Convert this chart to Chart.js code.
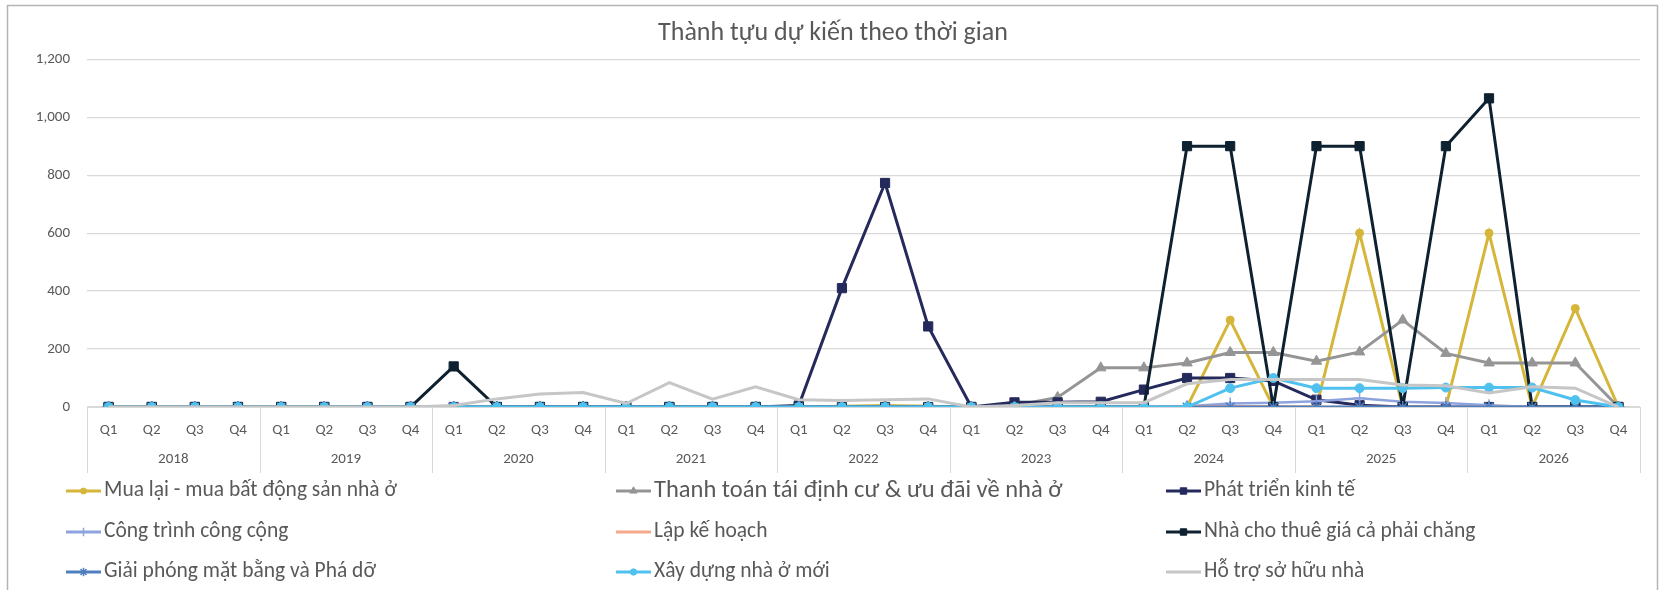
<!DOCTYPE html>
<html>
<head>
<meta charset="utf-8">
<script src="https://cdn.jsdelivr.net/npm/chart.js@4/dist/chart.umd.min.js"></script>
<style>
  html, body { margin: 0; padding: 0; background: #ffffff; }
  #wrap { position: relative; width: 1666px; height: 590px; }
</style>
</head>
<body>
<div id="wrap"><canvas id="c" width="1666" height="590"></canvas></div>
<script>
// Chart title and axis groups
const chartTitle = 'Thành tựu dự kiến theo thời gian';
const years = ['2018', '2019', '2020', '2021', '2022', '2023', '2024', '2025', '2026'];
const quarters = ['Q1', 'Q2', 'Q3', 'Q4'];
const yTicks = [0, 200, 400, 600, 800, 1000, 1200];

// Series names (legend order)
const seriesNames = [
  'Mua lại - mua bất động sản nhà ở',
  'Thanh toán tái định cư & ưu đãi về nhà ở',
  'Phát triển kinh tế',
  'Công trình công cộng',
  'Lập kế hoạch',
  'Nhà cho thuê giá cả phải chăng',
  'Giải phóng mặt bằng và Phá dỡ',
  'Xây dựng nhà ở mới',
  'Hỗ trợ sở hữu nhà'
];

// Quarterly values, 2018 Q1 .. 2026 Q4
const muaLai = [
  0, 0, 0, 0,   0, 0, 0, 0,   0, 0, 0, 0,   0, 0, 0, 0,
  0, 3, 5, 3,   0, 0, 0, 0,   0, 0, 300, 0, 0, 600, 0, 0,
  600, 0, 340, 0
];
const thanhToan = [
  0, 0, 0, 0,   0, 0, 0, 0,   0, 0, 0, 0,   0, 0, 0, 0,
  0, 0, 0, 0,   0, 5, 33, 135, 135, 152, 188, 188, 158, 190, 300, 185,
  152, 152, 152, 0
];
const phatTrien = [
  0, 0, 0, 0,   0, 0, 0, 0,   0, 0, 0, 0,   0, 0, 0, 0,
  5, 410, 773, 278, 0, 16, 16, 18, 60, 100, 100, 90, 25, 6, 0, 0,
  0, 0, 0, 0
];
const congTrinh = [
  0, 0, 0, 0,   0, 0, 0, 0,   0, 0, 0, 0,   0, 0, 0, 0,
  0, 0, 0, 0,   0, 0, 0, 0,   0, 3, 12, 15, 20, 30, 18, 14,
  6, 0, 0, 0
];
const lapKeHoach = [
  0, 0, 0, 0,   0, 0, 0, 0,   0, 0, 0, 0,   0, 0, 0, 0,
  0, 0, 0, 0,   0, 0, 0, 0,   0, 3, 3, 3,   0, 0, 0, 0,
  0, 0, 0, 0
];
const nhaChoThue = [
  0, 0, 0, 0,   0, 0, 0, 0,   140, 0, 0, 0, 0, 0, 0, 0,
  0, 0, 0, 0,   0, 0, 0, 0,   0, 900, 900, 0, 900, 900, 0, 900,
  1065, 0, 0, 0
];
const giaiPhong = [
  0, 0, 0, 0,   0, 0, 0, 0,   0, 0, 0, 0,   0, 0, 0, 0,
  0, 0, 0, 0,   0, 0, 0, 0,   0, 0, 0, 0,   0, 0, 0, 0,
  0, 0, 0, 0
];
const xayDung = [
  0, 0, 0, 0,   0, 0, 0, 0,   0, 0, 0, 0,   0, 0, 0, 0,
  0, 0, 0, 0,   0, 0, 0, 0,   0, 0, 65, 100, 65, 65, 65, 67,
  67, 67, 24, 0
];
const hoTro = [
  0, 0, 0, 0,   0, 0, 0, 0,   5, 28, 45, 50, 12, 84, 27, 70,
  25, 22, 25, 28, 0, 5, 15, 15, 15, 80, 95, 95, 95, 95, 76, 73,
  48, 70, 65, 0
];

const seriesValues = [muaLai, thanhToan, phatTrien, congTrinh, lapKeHoach, nhaChoThue, giaiPhong, xayDung, hoTro];

// Category labels: one quarter per point, years as a second row
const quarterLabels = [];
years.forEach(() => quarters.forEach(q => quarterLabels.push(q)));

const FONT = 'Carlito, Lato, "Open Sans", sans-serif';
const TEXT = '#595959';

// Line and marker styles per series
const styles = [
  { color: '#D6B63A', point: 'circle',   r: 4,   lw: 3 },
  { color: '#959595', point: 'triangle', r: 6,   lw: 3 },
  { color: '#252A5C', point: 'rect',     r: 6.5, lw: 3 },
  { color: '#8EA3DD', point: 'cross',    r: 6,   lw: 2.5 },
  { color: '#F4A98A', point: false,      r: 0,   lw: 2.5 },
  { color: '#0D2130', point: 'rect',     r: 6.5, lw: 3 },
  { color: '#4F7FBF', point: 'star',     r: 6,   lw: 3 },
  { color: '#4FC1EE', point: 'circle',   r: 4.5, lw: 3 },
  { color: '#C6C6C6', point: false,      r: 0,   lw: 3 }
];

const datasets = seriesNames.map((name, i) => {
  const s = styles[i];
  return {
    label: name,
    data: seriesValues[i],
    borderColor: s.color,
    backgroundColor: s.color,
    borderWidth: s.lw,
    pointStyle: s.point || 'circle',
    pointRadius: s.point ? s.r : 0,
    pointBorderWidth: s.point === 'cross' || s.point === 'star' ? 1.5 : 1,
    pointBorderColor: s.color,
    pointBackgroundColor: s.color,
    tension: 0,
    fill: false,
    // later series sit on top of earlier ones
    order: seriesNames.length - 1 - i
  };
});

// Outer frame of the chart
const framePlugin = {
  id: 'frame',
  beforeDraw(chart) {
    const ctx = chart.ctx;
    ctx.save();
    ctx.fillStyle = '#ffffff';
    ctx.fillRect(0, 0, chart.width, chart.height);
    ctx.strokeStyle = '#b4b4b4';
    ctx.lineWidth = 1.5;
    ctx.strokeRect(7.5, 5.5, 1650, 620);
    ctx.restore();
  }
};

// Year group separators below the category axis
const groupPlugin = {
  id: 'groups',
  afterDraw(chart) {
    const x = chart.scales.x;
    const x2 = chart.scales.x2;
    const ctx = chart.ctx;
    const top = chart.chartArea.bottom;
    const bottom = x2.bottom - 2;
    const step = x.getPixelForValue(1) - x.getPixelForValue(0);
    ctx.save();
    ctx.strokeStyle = '#d9d9d9';
    ctx.lineWidth = 1;
    for (let g = 0; g <= years.length; g++) {
      const px = Math.round(x.getPixelForValue(g * quarters.length) - step / 2) + 0.5;
      ctx.beginPath();
      ctx.moveTo(px, top);
      ctx.lineTo(px, bottom);
      ctx.stroke();
    }
    ctx.restore();
  }
};

// Three-column legend under the axis
const legendPlugin = {
  id: 'gridLegend',
  afterDraw(chart) {
    const ctx = chart.ctx;
    const colX = [66, 616, 1166];
    const rowY = [491, 532, 572];
    const lineLen = 35;
    const sizes = [21.5, 24.5, 21.5, 21.5, 21.5, 21.5, 21.5, 21.5, 21.5];
    chart.data.datasets.forEach((ds, i) => {
      const cx = colX[i % 3];
      const cy = rowY[Math.floor(i / 3)];
      ctx.save();
      ctx.strokeStyle = ds.borderColor;
      ctx.lineWidth = 3;
      ctx.beginPath();
      ctx.moveTo(cx, cy);
      ctx.lineTo(cx + lineLen, cy);
      ctx.stroke();
      if (ds.pointRadius > 0) {
        const opts = {
          pointStyle: ds.pointStyle,
          radius: Math.max(3, ds.pointRadius * 0.7),
          rotation: 0,
          borderWidth: ds.pointBorderWidth
        };
        ctx.fillStyle = ds.pointBackgroundColor;
        ctx.strokeStyle = ds.pointBorderColor;
        ctx.lineWidth = ds.pointBorderWidth;
        Chart.helpers.drawPoint(ctx, opts, cx + lineLen / 2, cy);
      }
      ctx.fillStyle = TEXT;
      ctx.font = sizes[i] + 'px ' + FONT;
      ctx.textAlign = 'left';
      ctx.textBaseline = 'middle';
      ctx.fillText(ds.label, cx + lineLen + 3, cy);
      ctx.restore();
    });
  }
};

const fmt = v => v.toLocaleString('en-US');

new Chart(document.getElementById('c'), {
  type: 'line',
  data: { labels: quarterLabels, datasets },
  options: {
    responsive: false,
    animation: false,
    events: [],
    layout: { padding: { left: 0, right: 0, top: 0, bottom: 115 } },
    plugins: {
      legend: { display: false },
      tooltip: { enabled: false },
      title: {
        display: true,
        text: chartTitle,
        color: TEXT,
        font: { family: FONT, size: 26, weight: 'normal' },
        padding: { top: 18, bottom: 10 }
      }
    },
    scales: {
      x: {
        type: 'category',
        offset: true,
        grid: { display: false, drawTicks: false },
        border: { display: true, color: '#d9d9d9', width: 1 },
        ticks: { color: TEXT, font: { family: FONT, size: 15 }, padding: 14, autoSkip: false, maxRotation: 0 },
        afterFit(s) { s.height = 38; }
      },
      x2: {
        type: 'category',
        labels: years,
        offset: true,
        position: 'bottom',
        grid: { display: false, drawTicks: false },
        border: { display: false },
        ticks: { color: TEXT, font: { family: FONT, size: 15 }, padding: 5, autoSkip: false, maxRotation: 0 },
        afterFit(s) { s.height = 30; }
      },
      y: {
        min: 0,
        max: 1200,
        afterBuildTicks(s) { s.ticks = yTicks.map(v => ({ value: v })); },
        grid: { color: '#d9d9d9', lineWidth: 1.2, drawTicks: false },
        border: { display: false },
        ticks: { color: TEXT, font: { family: FONT, size: 15 }, padding: 17, callback: v => fmt(v) },
        afterFit(s) { s.width = 87; }
      },
      // empty margin on the right of the plot
      yRight: {
        position: 'right',
        display: true,
        grid: { display: false, drawTicks: false },
        border: { display: false },
        ticks: { display: false },
        afterFit(s) { s.width = 26; }
      }
    }
  },
  plugins: [framePlugin, groupPlugin, legendPlugin]
});
</script>
</body>
</html>
